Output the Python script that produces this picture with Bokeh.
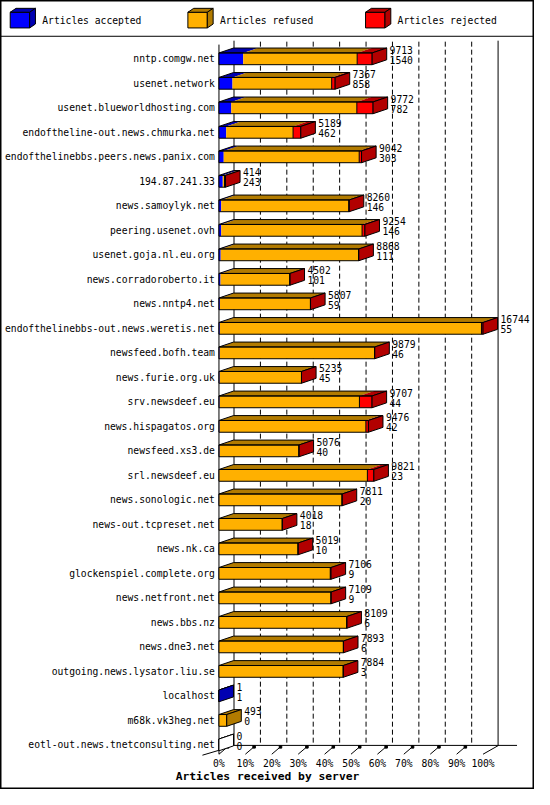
from bokeh.plotting import figure
from bokeh.models import Range1d, LinearAxis, FixedTicker, PrintfTickFormatter, Span
from bokeh.core.properties import value
from bokeh.embed import file_html
from bokeh.resources import INLINE

# ---------------- data ----------------
servers = [
    "nntp.comgw.net",
    "usenet.network",
    "usenet.blueworldhosting.com",
    "endoftheline-out.news.chmurka.net",
    "endofthelinebbs.peers.news.panix.com",
    "194.87.241.33",
    "news.samoylyk.net",
    "peering.usenet.ovh",
    "usenet.goja.nl.eu.org",
    "news.corradoroberto.it",
    "news.nntp4.net",
    "endofthelinebbs-out.news.weretis.net",
    "newsfeed.bofh.team",
    "news.furie.org.uk",
    "srv.newsdeef.eu",
    "news.hispagatos.org",
    "newsfeed.xs3.de",
    "srl.newsdeef.eu",
    "news.sonologic.net",
    "news-out.tcpreset.net",
    "news.nk.ca",
    "glockenspiel.complete.org",
    "news.netfront.net",
    "news.bbs.nz",
    "news.dne3.net",
    "outgoing.news.lysator.liu.se",
    "localhost",
    "m68k.vk3heg.net",
    "eotl-out.news.tnetconsulting.net",
]
accepted = [1540, 858, 782, 462, 303, 243, 146, 146, 111, 101, 59, 55, 46, 45, 44,
            42, 40, 23, 20, 18, 10, 9, 9, 6, 6, 3, 1, 0, 0]
refused = [7223, 6289, 7960, 4237, 8589, 111, 8084, 8928, 8737, 4391, 5738, 16589, 9818,
           5185, 8863, 9274, 5031, 9388, 7786, 3995, 5004, 7047, 7095, 8098, 7882, 7876,
           0, 493, 0]
rejected = [950, 220, 1030, 490, 150, 60, 30, 180, 20, 10, 10, 100, 15, 5, 800, 160, 5,
            410, 5, 5, 5, 50, 5, 5, 5, 5, 0, 0, 0]
legend_labels = ["Articles accepted", "Articles refused", "Articles rejected"]
pct_ticks = [0, 10, 20, 30, 40, 50, 60, 70, 80, 90, 100]
x_title = "Articles received by server"

# ---------------- styles ----------------
front_colors = ["#0000FF", "#FFB000", "#FF0000"]
dark_colors = ["#0000B2", "#B27B00", "#B20000"]
FONT = "DejaVu Sans Mono"
FS = "9.7px"

W, H = 534, 789


def X(px):  # reference pixel -> percent coordinate
    return (px - 225.0) / 2.72


def Y(py):  # reference pixel -> row coordinate
    return (py - 59.5) / 25.0


DX = 15.0 / 2.72      # bar depth (x)
DY = 5.0 / 25.0       # bar depth (y)
HH = 6.0 / 25.0       # half bar height
WDX = 15.5 / 2.72     # back wall depth

p = figure(width=W, height=H, title=None,
           x_range=Range1d(X(0), X(550)), y_range=Range1d(Y(805), Y(0)),
           x_axis_type=None, y_axis_type=None, toolbar_location=None,
           output_backend="svg", min_border=0)
p.outline_line_color = "black"
p.outline_line_width = 2
p.background_fill_color = "white"
p.border_fill_color = "white"

# ---------------- legend ----------------
p.add_layout(Span(location=Y(36.5), dimension="width", line_color="black", line_width=1))
for k, lab in enumerate(legend_labels):
    bx = 10 + 183 * k
    p.quad(left=[X(bx)], right=[X(bx + 20)], top=[Y(12)], bottom=[Y(28)],
           fill_color=front_colors[k], line_color="black")
    p.patch(x=[X(bx), X(bx + 20), X(bx + 26), X(bx + 6)], y=[Y(12), Y(12), Y(8), Y(8)],
            fill_color=dark_colors[k], line_color="black")
    p.patch(x=[X(bx + 20), X(bx + 26), X(bx + 26), X(bx + 20)], y=[Y(12), Y(8), Y(24), Y(28)],
            fill_color=dark_colors[k], line_color="black")
    p.text(x=[X(bx + 33)], y=[Y(20)], text=[lab], text_font=value(FONT),
           text_font_size=FS, text_baseline="middle", text_align="left", text_color="black")

# ---------------- walls / grid ----------------
solid_x = [t + WDX for t in pct_ticks if t in (0, 100)]
dash_x = [t + WDX for t in pct_ticks if t not in (0, 100)]
p.segment(x0=solid_x, y0=[Y(41)] * len(solid_x), x1=solid_x, y1=[Y(760)] * len(solid_x),
          line_color="black", line_width=1)
p.segment(x0=dash_x, y0=[Y(42)] * len(dash_x), x1=dash_x, y1=[Y(760)] * len(dash_x),
          line_color="black", line_width=1, line_dash="5 3")
p.segment(x0=[0], y0=[Y(45)], x1=[0], y1=[Y(769)], line_color="black")
p.segment(x0=[0], y0=[Y(760)], x1=[X(532)], y1=[Y(760)], line_color="black")
p.segment(x0=[X(208)], y0=[Y(770)], x1=[0], y1=[Y(765)], line_color="black")
p.segment(x0=[100], y0=[Y(769)], x1=[X(513)], y1=[Y(760)], line_color="black")
tk = pct_ticks[:-1]
p.segment(x0=tk, y0=[Y(769)] * len(tk), x1=[t + 9.5 / 2.72 for t in tk], y1=[Y(761)] * len(tk),
          line_color="black")
p.scatter(x=[t + 9.0 / 2.72 for t in tk], y=[Y(761.5)] * len(tk), marker="square", size=2.5,
          fill_color="black", line_color="black")

# ---------------- bars ----------------
maxv = max(a + r + j for a, r, j in zip(accepted, refused, rejected))
fl, fr, ft, fb, fc = [], [], [], [], []
txs, tys, tcs = [], [], []
sxs, sys_, scs = [], [], []
oxs, oys = [], []
topo_xs, topo_ys = [], []
rb_x, rb_y0, rb_y1 = [], [], []
lab_x, lab_y1, lab_y2, lab_t1, lab_t2 = [], [], [], [], []

for i in range(len(servers)):
    vals = [accepted[i], refused[i], rejected[i]]
    total = sum(vals)
    top, bot = i - HH, i + HH
    x0 = 0.0
    last = None
    for k, v in enumerate(vals):
        if v <= 0:
            continue
        x1 = x0 + v / maxv * 100.0
        fl.append(x0); fr.append(x1); ft.append(top); fb.append(bot); fc.append(front_colors[k])
        txs.append([x0, x1, x1 + DX, x0 + DX]); tys.append([top, top, top - DY, top - DY])
        tcs.append(dark_colors[k])
        if k == 2 and x0 > 0:
            rb_x.append(x0); rb_y0.append(top); rb_y1.append(bot)
        x0 = x1
        last = k
    t = total / maxv * 100.0
    oxs.append([0, t, t, 0]); oys.append([top, top, bot, bot])
    topo_xs.append([0, t, t + DX, DX]); topo_ys.append([top, top, top - DY, top - DY])
    sxs.append([t, t + DX, t + DX, t]); sys_.append([top, top - DY, bot - DY, bot])
    scs.append(dark_colors[last] if last is not None else "white")
    lab_x.append(t + DX + 3.0 / 2.72)
    lab_y1.append(i - 0.37); lab_y2.append(i + 0.04)
    lab_t1.append(str(total)); lab_t2.append(str(accepted[i]))

p.quad(left=fl, right=fr, top=ft, bottom=fb, fill_color=fc, line_color=None)
p.patches(xs=txs, ys=tys, fill_color=tcs, line_color=None)
p.patches(xs=topo_xs, ys=topo_ys, fill_color=None, line_color="black", line_width=1)
p.patches(xs=oxs, ys=oys, fill_color=None, line_color="black", line_width=1)
p.patches(xs=sxs, ys=sys_, fill_color=scs, line_color="black", line_width=1)
p.segment(x0=rb_x, y0=rb_y0, x1=rb_x, y1=rb_y1, line_color="black", line_width=1)

p.text(x=lab_x, y=lab_y1, text=lab_t1, text_font=value(FONT), text_font_size=FS,
       text_baseline="middle", text_align="left", text_color="black")
p.text(x=lab_x, y=lab_y2, text=lab_t2, text_font=value(FONT), text_font_size=FS,
       text_baseline="middle", text_align="left", text_color="black")

# ---------------- axes ----------------
yaxis = LinearAxis(fixed_location=0,
                   ticker=FixedTicker(ticks=list(range(len(servers)))),
                   major_label_overrides={i: s for i, s in enumerate(servers)})
yaxis.axis_line_color = None
yaxis.major_tick_line_color = None
yaxis.minor_tick_line_color = None
yaxis.major_tick_out = 0
yaxis.major_tick_in = 0
yaxis.major_label_standoff = 4
yaxis.major_label_text_font = FONT
yaxis.major_label_text_font_size = FS
yaxis.major_label_text_color = "black"
p.add_layout(yaxis, "left")

xaxis = LinearAxis(fixed_location=Y(770), ticker=FixedTicker(ticks=pct_ticks),
                   formatter=PrintfTickFormatter(format="%d%%"), axis_label=x_title)
xaxis.axis_line_color = None
xaxis.major_tick_line_color = None
xaxis.minor_tick_line_color = None
xaxis.major_tick_out = 0
xaxis.major_tick_in = 0
xaxis.major_label_standoff = 3
xaxis.major_label_text_font = FONT
xaxis.major_label_text_font_size = FS
xaxis.major_label_text_color = "black"
xaxis.axis_label_standoff = -3
xaxis.axis_label_text_font = FONT
xaxis.axis_label_text_font_size = "11.3px"
xaxis.axis_label_text_font_style = "bold"
xaxis.axis_label_text_color = "black"
p.add_layout(xaxis, "below")

open("out.html", "w").write(file_html(p, INLINE))
